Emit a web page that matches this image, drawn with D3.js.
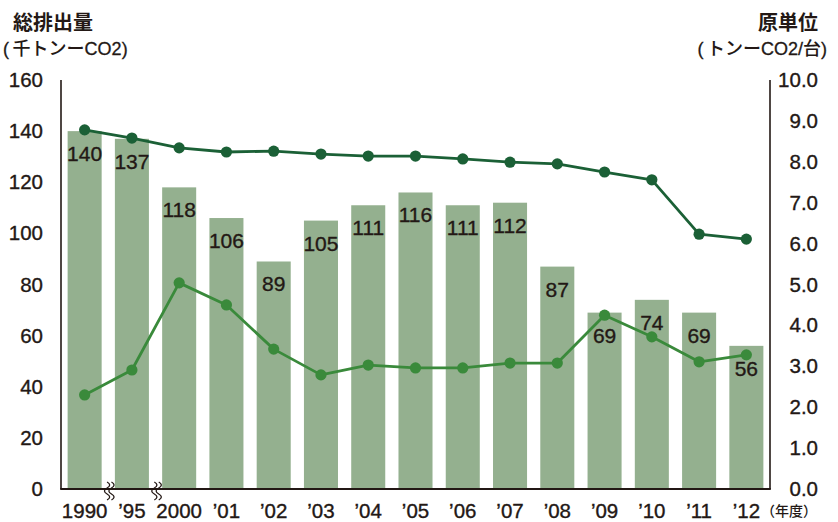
<!DOCTYPE html>
<html><head><meta charset="utf-8">
<script src="https://cdn.jsdelivr.net/npm/d3@7"></script>
<style>body{margin:0;background:#fff}svg{display:block}</style>
</head><body><svg id="c" width="838" height="522"></svg>
<script>
const years = ["1990","’95","2000","’01","’02","’03","’04","’05","’06","’07","’08","’09","’10","’11","’12"];
const emissions = [140,137,118,106,89,105,111,116,111,112,87,69,74,69,56];
const intensityUpper = [8.78,8.58,8.34,8.24,8.26,8.19,8.14,8.14,8.07,7.99,7.95,7.75,7.56,6.23,6.11];
const intensityLower = [2.30,2.91,5.04,4.50,3.42,2.79,3.03,2.96,2.96,3.08,3.08,4.25,3.72,3.11,3.28];
const leftTicks = [0,20,40,60,80,100,120,140,160];
const rightTicks = [0,1,2,3,4,5,6,7,8,9,10];
const breakBetween = [["1990","’95"],["’95","2000"]];

const svg = d3.select("#c");
const numFont = "'Liberation Sans', Arial, sans-serif";
const jpFont = "'Noto Sans CJK JP', sans-serif";
const ink = "#231815";
const L = 61, R = 770, T = 80, B = 489;

const x = d3.scaleBand().domain(years).range([L, R]).paddingInner(0.28).paddingOuter(0.14);
const yL = d3.scaleLinear().domain([0,160]).range([B, T]);
const yR = d3.scaleLinear().domain([0,10]).range([B, T]);

function numText(sel, size) {
  sel.attr("font-family", numFont).attr("font-size", size).attr("fill", ink)
    .attr("stroke", ink).attr("stroke-width", 0.35);
}

// bars
svg.append("g").selectAll("rect").data(years).join("rect")
  .attr("x", d => x(d)).attr("width", x.bandwidth())
  .attr("y", (d,i) => yL(emissions[i])).attr("height", (d,i) => B - yL(emissions[i]))
  .attr("fill", "#94b08f");

// bar labels
svg.append("g").selectAll("text").data(years).join("text")
  .attr("x", d => x(d) + x.bandwidth()/2)
  .attr("y", (d,i) => yL(emissions[i]) + 30)
  .attr("text-anchor", "middle")
  .call(numText, 21)
  .text((d,i) => emissions[i]);

// lines
function drawLine(vals, color) {
  const pts = years.map((d,i) => [x(d) + x.bandwidth()/2, yR(vals[i])]);
  svg.append("path").attr("d", d3.line()(pts)).attr("fill","none")
    .attr("stroke", color).attr("stroke-width", 2.8).attr("stroke-linejoin","round");
  svg.append("g").selectAll("circle").data(pts).join("circle")
    .attr("cx", p => p[0]).attr("cy", p => p[1]).attr("r", 5.6).attr("fill", color);
}
drawLine(intensityUpper, "#1b6036");
drawLine(intensityLower, "#3a8a3b");

// axes (labels only)
const gL = svg.append("g").attr("transform", `translate(${L},0)`)
  .call(d3.axisLeft(yL).tickValues(leftTicks).tickSize(0).tickPadding(18));
gL.select(".domain").remove();
gL.selectAll("text").call(numText, 20.5);

const gR = svg.append("g").attr("transform", `translate(${R},0)`)
  .call(d3.axisRight(yR).tickValues(rightTicks).tickSize(0).tickFormat(d3.format(".1f")));
gR.select(".domain").remove();
gR.selectAll("text").attr("x", 48).attr("text-anchor", "end").call(numText, 20.5);

const gB = svg.append("g").attr("transform", `translate(0,${B})`)
  .call(d3.axisBottom(x).tickSize(0).tickPadding(14));
gB.select(".domain").remove();
gB.selectAll("text").call(numText, 20.5);

// axis lines
svg.append("line").attr("x1", L).attr("x2", L).attr("y1", T).attr("y2", B).attr("stroke", ink).attr("stroke-width", 1.6);
svg.append("line").attr("x1", R).attr("x2", R).attr("y1", T).attr("y2", B).attr("stroke", ink).attr("stroke-width", 1.6);
svg.append("line").attr("x1", L - 0.8).attr("x2", R + 0.8).attr("y1", B).attr("y2", B).attr("stroke", ink).attr("stroke-width", 2);

// break marks
breakBetween.forEach(([a, b]) => {
  const bx = (x(a) + x.bandwidth() + x(b)) / 2 + 1;
  [-2.2, 2.2].forEach(off => {
    const cx = bx + off;
    const y0 = B - 7;
    svg.append("path")
      .attr("d", `M${cx},${y0} c3.5,2 3.5,4 0,6 c-3.5,2 -3.5,4 0,6 c3.5,2 3.5,4 0,6`)
      .attr("fill", "none").attr("stroke", ink).attr("stroke-width", 1.3);
  });
});

// titles
function mixedText(xPos, yPos, anchor, parts, size) {
  const t = svg.append("text").attr("x", xPos).attr("y", yPos).attr("text-anchor", anchor)
    .attr("font-size", size).attr("fill", ink);
  parts.forEach(([s, latin]) => {
    const ts = t.append("tspan").text(s)
      .attr("font-family", latin ? numFont : jpFont)
      .attr("font-weight", latin ? 400 : 500);
    if (latin) ts.attr("stroke", ink).attr("stroke-width", 0.3);
  });
  return t;
}
svg.append("text").attr("x", 13).attr("y", 30).attr("font-family", jpFont).attr("font-weight", 700)
  .attr("font-size", 20).attr("fill", ink).text("総排出量");
mixedText(3, 55, "start", [["(", true], ["\u2009千トンー", false], ["CO2", true], [")", true]], 18);
svg.append("text").attr("x", 818).attr("y", 30).attr("text-anchor", "end").attr("font-family", jpFont).attr("font-weight", 700)
  .attr("font-size", 20).attr("fill", ink).text("原単位");
mixedText(827, 55, "end", [["(", true], ["\u2009トンー", false], ["CO2/", true], ["台", false], [")", true]], 18);
svg.append("text").attr("x", 761).attr("y", 516).attr("font-family", jpFont).attr("font-weight", 500)
  .attr("font-size", 14).attr("fill", ink).text("（年度）");
</script>
</body></html>
